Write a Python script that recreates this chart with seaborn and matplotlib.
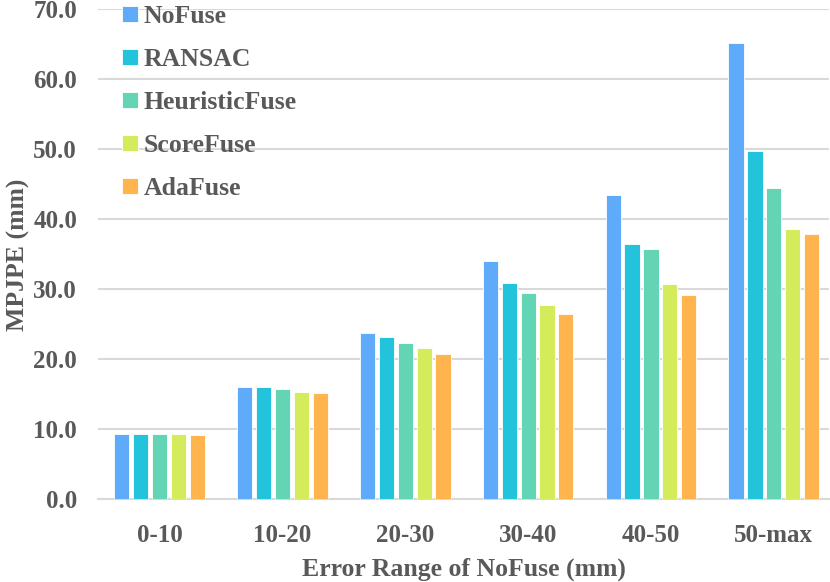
import numpy as np
import pandas as pd
import matplotlib
matplotlib.use("Agg")
import matplotlib.pyplot as plt
import seaborn as sns

categories = ["0-10", "10-20", "20-30", "30-40", "40-50", "50-max"]
methods = ["NoFuse", "RANSAC", "HeuristicFuse", "ScoreFuse", "AdaFuse"]

no_fuse = [9.4, 16.1, 23.7, 34.1, 43.5, 65.2]
ransac = [9.4, 16.0, 23.2, 30.9, 36.5, 49.7]
heuristic_fuse = [9.3, 15.7, 22.3, 29.5, 35.8, 44.5]
score_fuse = [9.3, 15.4, 21.6, 27.8, 30.7, 38.6]
ada_fuse = [9.2, 15.2, 20.7, 26.5, 29.2, 37.9]

colors = ["#60AAFA", "#22C3DB", "#64D5B4", "#D4EB5C", "#FFB44E"]

series = [no_fuse, ransac, heuristic_fuse, score_fuse, ada_fuse]
rows = []
for m, vals in zip(methods, series):
    for c, v in zip(categories, vals):
        rows.append({"range": c, "method": m, "mpjpe": v})
df = pd.DataFrame(rows)

sns.set_theme(style="white")
plt.rcParams["font.family"] = ["Liberation Serif", "DejaVu Serif"]
plt.rcParams["font.weight"] = "bold"
text_color = "#595959"

fig, ax = plt.subplots(figsize=(8.3, 5.82), dpi=100)
fig.subplots_adjust(left=0.118, right=0.999, bottom=0.142, top=0.984)

sns.barplot(data=df, x="range", y="mpjpe", hue="method", order=categories,
            hue_order=methods, palette=colors, saturation=1, width=0.77,
            gap=0.2, edgecolor="#FFFFFF", linewidth=0.6, ax=ax, zorder=3)

ax.set_ylim(0, 70)
ax.set_yticks(np.arange(0, 71, 10))
ax.set_yticklabels([f"{t:.1f}" for t in np.arange(0, 71, 10)])
ax.set_xlim(-0.5, 5.45)
ax.yaxis.grid(True, color="#D9D9D9", linewidth=1.5, zorder=0)
ax.set_axisbelow(True)
for s in ["top", "right", "left"]:
    ax.spines[s].set_visible(False)
ax.spines["bottom"].set_color("#D9D9D9")
ax.spines["bottom"].set_linewidth(1.5)
ax.tick_params(axis="both", length=0, colors=text_color)
ax.tick_params(axis="y", labelsize=18, pad=15)
ax.tick_params(axis="x", labelsize=18, pad=18)
for lbl in ax.get_xticklabels() + ax.get_yticklabels():
    lbl.set_fontweight("bold")

ax.set_xlabel("Error Range of NoFuse (mm)", fontsize=18.5, fontweight="bold",
              color=text_color, labelpad=7)
ax.set_ylabel("MPJPE (mm)", fontsize=18.5, fontweight="bold",
              color=text_color, labelpad=2)

leg = ax.legend(loc="upper left", bbox_to_anchor=(0.019, 1.03), frameon=False,
                fontsize=18.5, handlelength=0.6, handleheight=0.6,
                handletextpad=0.25, labelspacing=0.78, borderaxespad=0)
for t in leg.get_texts():
    t.set_color(text_color)
    t.set_fontweight("bold")

fig.savefig("out.png", dpi=100)
